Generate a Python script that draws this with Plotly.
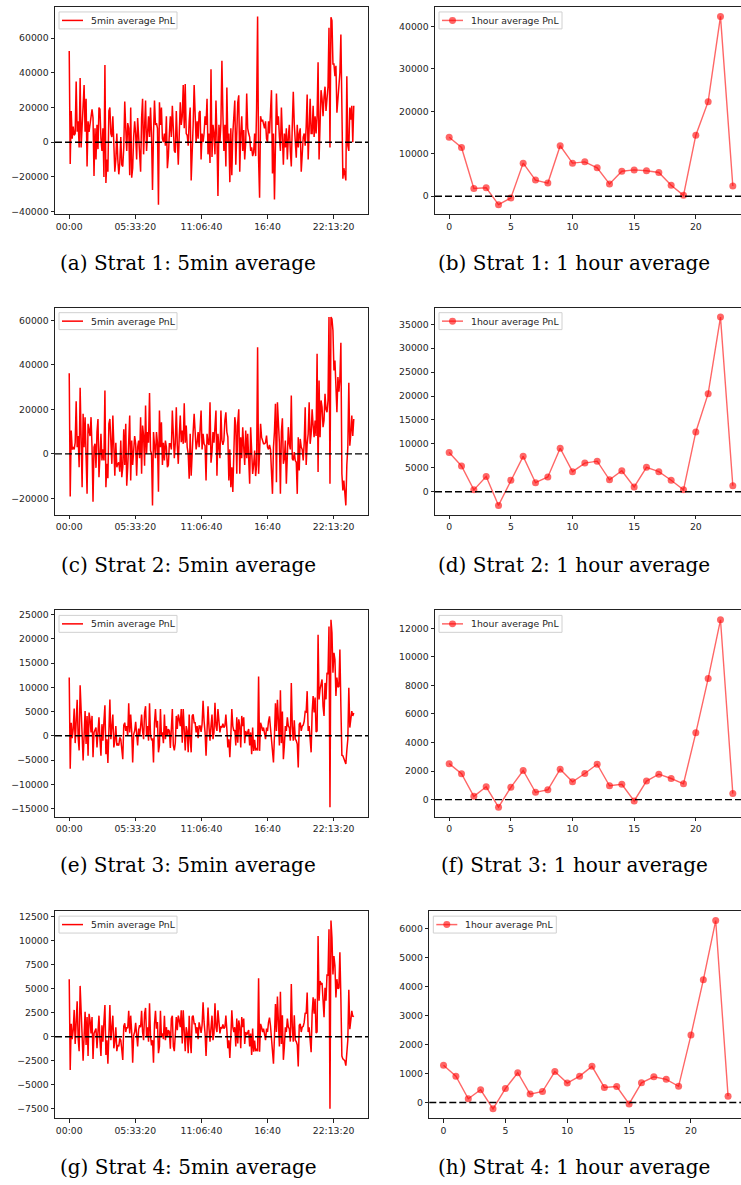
import plotly.graph_objects as go

# ---------------------------------------------------------------
# 5-minute average PnL per strategy (one row = one hour, 12 buckets)
# ---------------------------------------------------------------
pnl_5min_strat1 = [
    52500, -12500, 18000, 2000, 9000, 4000, 5000, 35000, 6000, 12000, -3000, 37000,
    -3000, 8000, 20000, 33000, 6000, 25000, -14000, 12000, 6000, 10000, 15000, 19000,
    14000, -19500, 8000, -10000, 10000, -4000, 20000, 19000, 2000, -5000, 8000, -20000,
    44500, -23500, -10000, -17000, 18000, 20000, 5000, 3000, 15000, -5000, -17000, -10000,
    5000, -10000, -18500, -12000, 3000, -13000, -14000, -3000, 23500, 8000, -5000, 11000,
    8000, -19000, 20000, -20500, -15000, 3000, 12000, 5000, -10000, 14000, 3000, -2000,
    -17000, 14000, 25000, -7000, 8000, 24000, -5000, 10000, 15000, 3000, 20000, 4000,
    -27500, 5000, 24000, 10000, 11000, 8000, -36000, 23000, 10000, 20000, 2000, 0,
    5000, -2000, 15000, -15000, -8000, 5000, 15000, 3000, 21000, 8000, -5000, -6000,
    18000, 2000, -13000, 5000, 23000, 10000, 15000, 33000, 8000, 33500, 5000, 4000,
    -2000, 12000, 20000, -22000, 3000, 10000, 33000, 8000, 0, 12000, 2000, 17000,
    18000, -10000, 5000, 0, 5000, 15000, 10000, 25000, -7000, 5000, -12000, 42000,
    -8500, 10000, 5000, -7000, 24000, 3000, -31000, 10000, 0, 11000, 47000, 16000,
    -5000, 10000, -14000, 31500, 0, 5000, -23000, 8000, -19000, 5000, 15000, 24000,
    -13000, 10000, 23000, 27000, -17000, 5000, 15000, -5000, 7000, -10000, 0, 28000,
    8000, 5000, 3000, -5000, -3000, -8000, -6000, 5000, -8000, 20000, 72500, -10000,
    -32000, 15000, 12000, 13000, 10000, 8000, 12000, 2000, 0, 12000, 5000, 15000,
    30000, -18000, 5000, -33000, 15000, 28000, 10000, 15000, 3000, -5000, 20000, 5000,
    -13000, 5000, -3000, 8000, -10000, 3000, 10000, -5000, -14000, 10000, 29000, 10000,
    -5000, -9000, 10000, -3000, 5000, 8000, -17000, -2000, 3000, 5000, -2000, 9000,
    27500, -10000, 15000, 25000, 5000, 5000, 21000, 3000, 15000, 5000, 15000, 46000,
    -10000, 10000, 30000, 25000, 15000, 26000, 32000, 18000, 25000, 32000, 66000, -3000,
    72000, 70000, 45000, 45000, 38000, 44000, 17000, 25000, 30000, 40000, 62000, 20000,
    -21000, -15000, -18000, -22000, 38000, -2000, -5000, 20000, 13000, 21000, 0, 21000,
]

pnl_5min_strat2 = [
    36300, -19200, 10500, 2000, 3000, 2000, 5000, 23700, 3000, 8000, -6000, 29700,
    7500, -15000, 18000, 3000, 16500, 2000, -18000, 13500, 11000, 8000, 16500, 3000,
    -21600, 3000, 4500, -6300, 9800, 15700, -10500, 5000, 9000, -3000, 2000, -3000,
    28500, -15000, -4500, -11000, 13500, 15700, 2000, -4500, 17200, 5000, -9800, 5000,
    -6000, -4500, -3800, -8000, 6000, -10500, -6000, 11000, -5000, 13500, -14300, -6000,
    9000, 17200, -12000, 6000, -5000, 2000, 8000, 4500, -9800, 3000, 6000, -2000,
    16500, -9000, 12700, 8200, -5300, 21700, 0, 9800, 5000, 27400, 1500, 0,
    -23200, 9800, 3000, -2000, 9800, 5000, -17000, 19500, 3000, 14200, -5000, 5000,
    -3000, 6000, 3000, -6000, -5000, 4500, 4500, 2000, 19500, 9000, -2000, 5000,
    21000, 3700, -4500, 8000, 17200, 5200, 10500, 4500, 22800, 5000, 12700, 3000,
    0, -11200, 9000, -9800, 3000, 10000, 18000, 11000, 2000, 5000, 9800, 3000,
    9800, 19500, 2000, 9000, 4500, 3700, -12000, 9000, 5000, 4000, 23200, -4000,
    700, 9800, 5000, 12000, 19500, -9800, 9000, 3000, -2000, 19500, 6000, 4000,
    6000, 15000, 18700, 9800, 7500, -12000, 2000, -15000, -6000, -17200, 5000, 16500,
    12700, -9000, 14200, 20000, -9000, 7500, -2000, 12000, 3000, -5000, 10500, -2000,
    9000, -7000, -13500, 12000, 700, -9000, -5000, 1500, -10000, -5000, 48000, -9000,
    700, 13500, 7500, 6000, 4500, 4500, 5000, 8200, 3000, 2000, 4000, 2000,
    -6800, -18000, 3000, 10000, 22500, -12800, 23200, 15700, 5000, -18000, 10000, 16000,
    -4500, -2200, 6000, -13500, 3000, 12000, 4500, 2000, 26200, -2200, -3000, 800,
    -3000, -3800, -18000, 7500, -7500, 6700, 3000, 2000, -3000, 5000, 21000, -5000,
    4500, 9000, 23200, 4500, 9000, 20000, 12700, 7500, 15000, 8000, 45000, -8200,
    33000, 7500, 24000, 21000, 12000, 15000, 27000, 20000, 18700, 24000, 61500, -13500,
    61500, 60700, 55500, 37500, 42000, 25000, 18700, 34500, 28000, 33700, 50000, -9000,
    -16500, -12000, -16500, -23200, -5000, 3000, 32000, 3700, 9000, 17200, 8000, 15700,
]

pnl_5min_strat3 = [
    12000, -6800, 2700, -500, 1400, 5600, -1500, 4200, 7400, -300, -3000, 10400,
    2400, 300, -5100, 2000, 5100, -1700, 4100, -4100, 4800, 3400, 700, 4100,
    -4400, 700, 1400, 1700, -2400, 2000, 3800, -700, -4100, 2400, -1000, 3000,
    6300, -3800, -700, -5600, 1700, 7500, -700, 2700, 4400, -2400, -1000, 2000,
    -2000, -1700, -2000, -300, -700, -2700, -4800, 2200, 2700, 1000, 2000, 0,
    6700, 700, 4400, 1000, -5500, 300, 1000, 2900, -700, -2000, 1500, 0,
    2000, 4400, 1000, -700, 4800, 6100, 0, 2000, -1000, 6700, 0, -800,
    -700, -5500, 2700, 5500, 1700, 3100, -3400, -2000, 5500, 0, 700, -1500,
    4400, -700, 2000, 0, 1400, 1000, -2500, 3800, 5500, -2000, -3000, -1500,
    4100, 1400, 4400, 3400, 2000, 5500, -1400, 5500, 1000, -3000, 2000, 1000,
    -3400, 4400, -700, -3400, 4100, 4400, 2700, 2700, 700, 2000, -500, 2000,
    2000, 800, 2400, 7200, 3100, 700, -4100, 1000, 6100, 1700, -1000, 2000,
    4400, -700, 700, 6800, 2000, 1000, 5500, 3100, 700, 2000, 1700, 2500,
    1700, 2000, 4400, 1400, -2400, -700, -4400, 0, 5500, 2000, 1000, 1200,
    -2000, 3800, -1400, 3400, 2000, -2400, 4100, 2000, 3800, -1500, 1000, 100,
    1000, 1400, -2000, 700, -3800, 1700, -3100, -800, -3000, -2500, -3000, 12200,
    -3100, 2700, 2000, 1000, 1700, 700, -700, 1700, 1000, 3000, 4000, 1600,
    -700, -2000, -5500, 0, 6700, 1000, 7400, 3100, -2000, 9400, -1500, 5000,
    -4800, -2000, 2000, 1000, 3800, 2000, 1700, -1000, 10900, 2000, -1000, 3200,
    -700, -1000, -1700, -6500, 2400, 2700, 1000, 2000, 2200, 3000, 5000, 4900,
    9200, 1000, 2000, -700, -3400, 4800, 8200, 4800, 7900, 800, 1000, 20800,
    7500, 9600, 11000, 11600, 6100, 4100, 10900, 7500, 13000, 12700, 22500, -14700,
    23900, 21200, 13000, 17100, 15700, 8200, 12000, 10000, 10200, 17800, 6100, -4000,
    -4100, -4800, -5500, -5800, -3000, -700, 9900, 1700, 3400, 5100, 4100, 4700,
]

pnl_5min_strat4 = [
    6000, -3450, 1350, -250, 700, 2800, -750, 2100, 3700, -150, -1500, 5300,
    1200, 150, -2500, 1000, 2600, -850, 2050, -2000, 2400, 1700, 350, 2050,
    -2300, 350, 700, 850, -1200, 1000, 2200, -350, -2000, 1200, -500, 1600,
    3300, -1900, -350, -2800, 850, 3300, -350, 1350, 2200, -1200, -500, 1000,
    -1500, -850, -1000, -150, -350, -1300, -2400, 1100, 1400, 500, 1000, 900,
    2700, 350, 2200, 500, -2700, 150, 500, 1450, -350, -1000, 750, 1200,
    1000, 2700, 500, -350, 2400, 3000, 0, 1000, -500, 3500, 0, -900,
    -350, -2700, 1350, 2700, 850, 1550, -1700, -1000, 2700, 0, 350, -250,
    2200, -350, 1000, 0, 700, 500, -1250, 1900, 2200, -1000, -1500, 150,
    2050, 700, 2200, 1700, 1000, 2750, -700, 2750, 500, -1500, 1000, 400,
    -1700, 2200, -350, -1700, 2050, 2200, 1350, 1350, 350, 1000, -250, 1500,
    1000, 400, 1200, 3600, 1550, 350, -2000, 500, 3050, 850, -500, 900,
    2200, -350, 350, 3500, 1000, 500, 2750, 1550, 350, 1000, 850, 1300,
    850, 1000, 2200, 700, -1200, -350, -2200, 0, 2750, 1000, 500, 1000,
    -1000, 1900, -700, 1700, 1000, -1200, 2050, 1000, 1900, -750, 500, 200,
    500, 700, -1000, 350, -1900, 850, -1550, -400, -1500, -1250, -1500, 6100,
    -1550, 1350, 1000, 500, 850, 350, -350, 850, 500, 1500, 2000, 1150,
    -350, -1000, -2800, 0, 3400, 500, 4200, 1550, -1000, 4700, -750, 2250,
    -2400, -1000, 1000, 500, 1900, 1000, 850, -500, 5500, 1000, -500, 2250,
    -350, -500, -850, -3100, 1200, 1350, 500, 1000, 1100, 1500, 2500, 2400,
    4600, 500, 1000, -350, -1600, 2400, 4100, 2400, 3950, 400, 500, 10500,
    3750, 5800, 5500, 5600, 3050, 2050, 5100, 3750, 6500, 6350, 11200, -7500,
    12100, 10300, 6500, 8400, 7400, 4100, 6000, 5000, 5100, 8800, 4000, -2000,
    -2300, -2400, -2500, -3000, -1500, -350, 4900, 800, 1700, 2700, 2100, 2200,
]

# ---------------------------------------------------------------
# 1-hour average PnL per strategy (hours 0..23)
# ---------------------------------------------------------------
hours = list(range(24))
pnl_1h_strat1 = [13900, 11500, 1800, 2000, -2000, -400, 7800, 3800, 3100, 11900, 7800, 8100,
                 6700, 2900, 5900, 6200, 6000, 5600, 2600, 200, 14400, 22300, 42400, 2400]
pnl_1h_strat2 = [8200, 5400, 400, 3200, -2850, 2400, 7400, 1900, 3100, 9100, 4200, 6000,
                 6400, 2500, 4400, 1000, 5100, 4200, 2400, 400, 12500, 20500, 36500, 1250]
pnl_1h_strat3 = [2520, 1810, 230, 900, -530, 860, 2040, 510, 690, 2130, 1250, 1830,
                 2480, 970, 1070, -90, 1300, 1780, 1480, 1110, 4680, 8480, 12600, 420]
pnl_1h_strat4 = [1290, 910, 130, 440, -220, 480, 1030, 290, 380, 1070, 670, 910,
                 1250, 520, 550, -50, 680, 890, 800, 560, 2330, 4240, 6290, 220]

# Time axis of the 5-minute buckets, in seconds since midnight
BUCKET_SECONDS = 300
time_tick_values = [0, 20000, 40000, 60000, 80000]
time_tick_labels = ["00:00", "05:33:20", "11:06:40", "16:40", "22:13:20"]

legend_labels = ["5min average PnL", "1hour average PnL"]
captions = [
    "(a) Strat 1: 5min average", "(b) Strat 1: 1 hour average",
    "(c) Strat 2: 5min average", "(d) Strat 2: 1 hour average",
    "(e) Strat 3: 5min average", "(f) Strat 3: 1 hour average",
    "(g) Strat 4: 5min average", "(h) Strat 4: 1 hour average",
]
y_steps = [20000, 10000, 20000, 5000, 5000, 2000, 2500, 1000]

five_min_series = [pnl_5min_strat1, pnl_5min_strat2, pnl_5min_strat3, pnl_5min_strat4]
hourly_series = [pnl_1h_strat1, pnl_1h_strat2, pnl_1h_strat3, pnl_1h_strat4]

# ---------------------------------------------------------------
# Page geometry (pixels)
# ---------------------------------------------------------------
W, H = 741, 1185
row_px = [(5, 213), (307, 515), (611, 818), (913, 1121)]
left_px = (55, 368)
right_px = [(435, 747), (435, 747), (435, 747), (429.3, 742.3)]
caption_y_px = [262, 565, 867, 1170]
caption_x_px = (188, 574)
legend_box_w = (118, 123)
legend_box_h = 17

RED = "#ff0000"
RED_A = "rgba(255,0,0,0.6)"


def fx(p):
    return p / W


def fy(p):
    return 1 - p / H


def padded(lo, hi, frac=0.05):
    span = hi - lo
    return lo - frac * span, hi + frac * span


TICK_FONT = dict(family="DejaVu Sans", size=9.3, color="#262626")
AXIS_COMMON = dict(
    showgrid=False, zeroline=False, showline=True, linecolor="#222222", linewidth=1,
    ticks="outside", ticklen=3.5, tickwidth=0.9, tickcolor="#222222",
    tickfont=TICK_FONT,
)

fig = go.Figure()
layout = dict(
    width=W, height=H, margin=dict(l=0, r=0, t=0, b=0),
    paper_bgcolor="white", plot_bgcolor="white", showlegend=False,
)
shapes = []
annotations = []


def add_legend(x_left, y_top, kind):
    """Boxed legend in the upper-left corner of a panel (pixel coordinates)."""
    bx0, by0 = x_left + 4, y_top + 5
    bx1, by1 = bx0 + legend_box_w[kind], by0 + legend_box_h
    cy = (by0 + by1) / 2
    shapes.append(dict(
        type="rect", xref="paper", yref="paper",
        x0=fx(bx0), x1=fx(bx1), y0=fy(by1), y1=fy(by0),
        fillcolor="rgba(255,255,255,0.8)", line=dict(color="#d0d0d0", width=1),
        layer="above",
    ))
    lx0, lx1 = bx0 + 3, bx0 + 24
    shapes.append(dict(
        type="line", xref="paper", yref="paper",
        x0=fx(lx0), x1=fx(lx1), y0=fy(cy), y1=fy(cy),
        line=dict(color=RED if kind == 0 else RED_A, width=1.5), layer="above",
    ))
    if kind == 1:
        mx, r = (lx0 + lx1) / 2, 3.5
        shapes.append(dict(
            type="circle", xref="paper", yref="paper",
            x0=fx(mx - r), x1=fx(mx + r), y0=fy(cy + r), y1=fy(cy - r),
            fillcolor=RED_A, line=dict(width=0), layer="above",
        ))
    annotations.append(dict(
        text=legend_labels[kind], xref="paper", yref="paper",
        x=fx(bx0 + 30), y=fy(cy), xanchor="left", yanchor="middle",
        showarrow=False, font=dict(family="DejaVu Sans", size=9.3, color="#262626"),
    ))


for r in range(4):
    top, bottom = row_px[r]
    for c in range(2):
        n = 2 * r + c + 1
        xa = "xaxis" if n == 1 else f"xaxis{n}"
        ya = "yaxis" if n == 1 else f"yaxis{n}"
        xref = "x" if n == 1 else f"x{n}"
        yref = "y" if n == 1 else f"y{n}"

        if c == 0:
            vals = five_min_series[r]
            xs = [i * BUCKET_SECONDS for i in range(len(vals))]
            fig.add_trace(go.Scatter(
                x=xs, y=vals, mode="lines", name=legend_labels[0],
                line=dict(color=RED, width=1.5),
                xaxis=xref, yaxis=yref,
            ))
            x0, x1 = left_px
            xr = padded(min(xs), max(xs))
            layout[xa] = dict(
                AXIS_COMMON, domain=[fx(x0), fx(x1)], range=list(xr), mirror=True,
                tickmode="array", tickvals=time_tick_values, ticktext=time_tick_labels,
                anchor=yref,
            )
            layout[ya] = dict(AXIS_COMMON, mirror=True)
        else:
            vals = hourly_series[r]
            fig.add_trace(go.Scatter(
                x=hours, y=vals, mode="lines+markers", name=legend_labels[1],
                line=dict(color=RED_A, width=1.4),
                marker=dict(color=RED_A, size=7, line=dict(width=0)),
                xaxis=xref, yaxis=yref,
            ))
            x0, x1 = right_px[r]
            lo, hi = padded(min(hours), max(hours))
            # the right-hand panels run past the page edge, so the visible
            # part of the axis stops where the page ends
            vis_x1 = min(x1, W)
            hi_vis = lo + (hi - lo) * (vis_x1 - x0) / (x1 - x0)
            layout[xa] = dict(
                AXIS_COMMON, domain=[fx(x0), fx(vis_x1)], range=[lo, hi_vis],
                mirror=True, tickmode="linear", tick0=0, dtick=5, anchor=yref,
            )
            layout[ya] = dict(AXIS_COMMON, mirror=False)

        ylo, yhi = padded(min(vals + [0]), max(vals + [0]))
        layout[ya].update(
            domain=[fy(bottom), fy(top)], range=[ylo, yhi], anchor=xref,
            tickmode="linear", tick0=0, dtick=y_steps[n - 1], tickformat="d",
        )

        # dashed zero reference line across the whole panel
        shapes.append(dict(
            type="line", xref=f"{xref} domain", yref=yref, x0=0, x1=1, y0=0, y1=0,
            line=dict(color="black", width=1.4, dash="7px,3px"), layer="above",
        ))

        add_legend(x0, top, c)

        annotations.append(dict(
            text=captions[n - 1], xref="paper", yref="paper",
            x=fx(caption_x_px[c]), y=fy(caption_y_px[r]),
            xanchor="center", yanchor="middle", showarrow=False,
            font=dict(family="DejaVu Serif", size=20, color="black"),
        ))

layout["shapes"] = shapes
layout["annotations"] = annotations
fig.update_layout(**layout)
fig.write_html("out.html")
